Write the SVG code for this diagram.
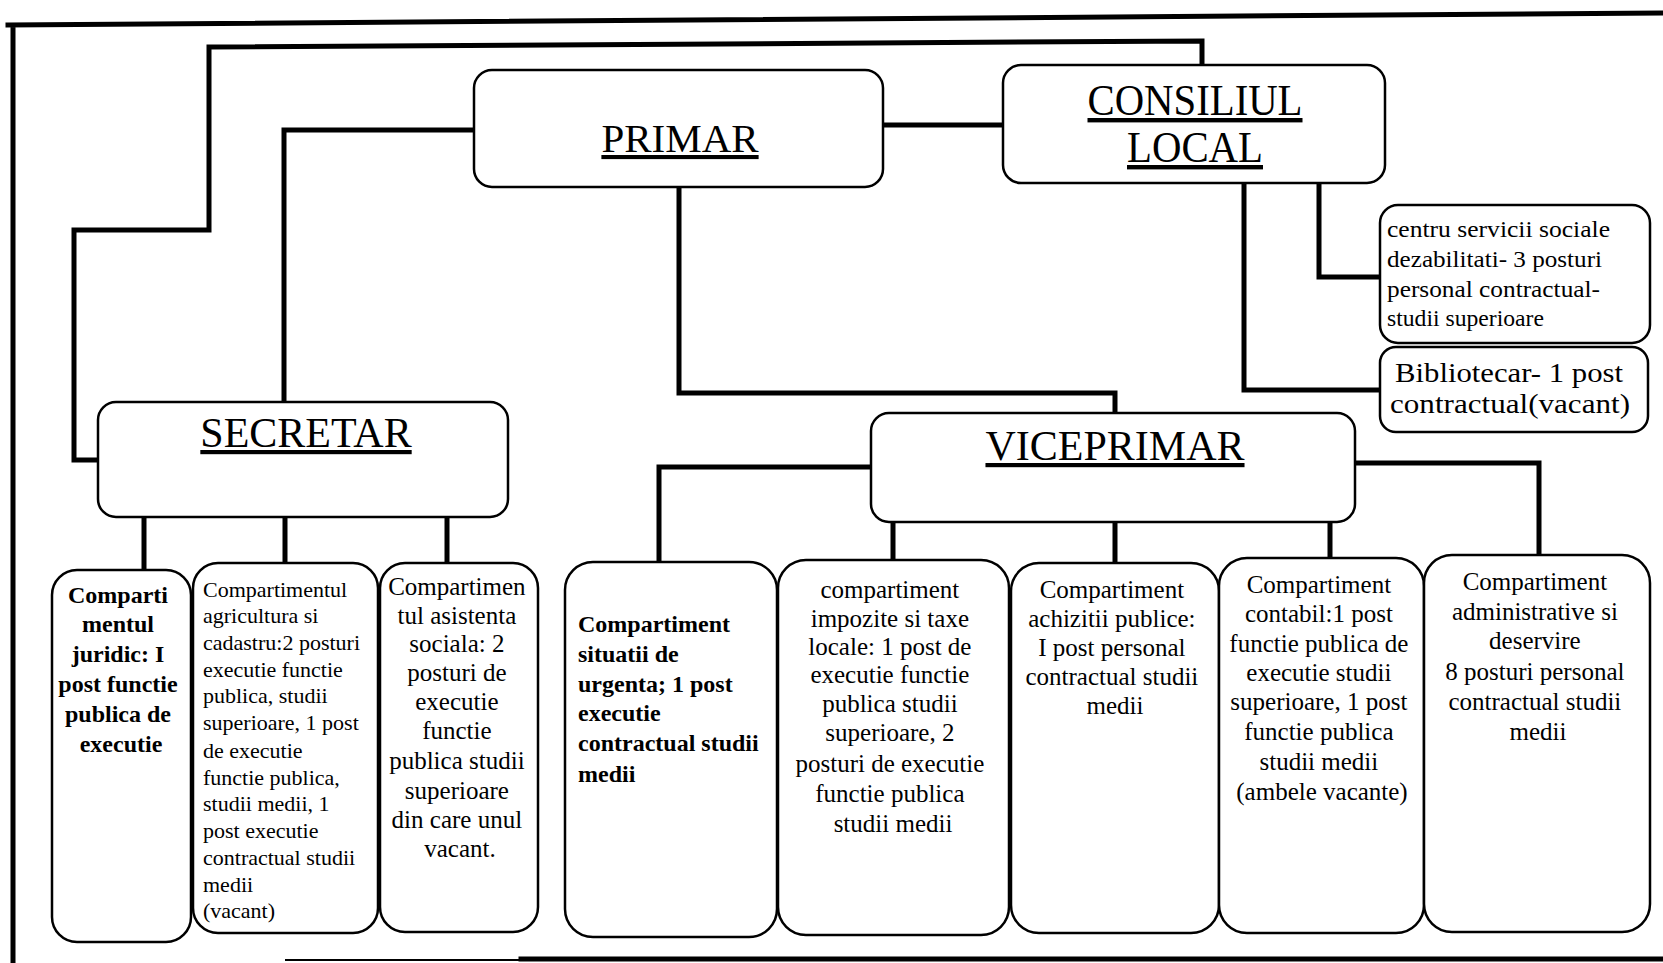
<svg xmlns="http://www.w3.org/2000/svg" width="1663" height="963" viewBox="0 0 1663 963">
<style>
.conn{stroke:#000;stroke-width:5;fill:none;stroke-linecap:square;stroke-linejoin:miter}
.box{fill:#fff;stroke:#000;stroke-width:2.5}
.t{font-family:'Liberation Serif','Times New Roman',serif;fill:#000}
.h{font-size:42px;text-decoration:underline}
.b1{font-size:24px;font-weight:bold}
.b2{font-size:22px}
.b3{font-size:25px}
.m{text-anchor:middle}
</style>
<rect width="1663" height="963" fill="#fff"/>
<g id="connectors">
<path class="conn" d="M13,963 V25 M8,25 L1663,13"/>
<path class="conn" style="stroke-width:2" d="M286,960 H521"/>
<path class="conn" d="M521,959 H1663"/>
<path class="conn" d="M98,460 H74 V230 H209 V47 L1202,41 V65"/>
<path class="conn" d="M474,130 H284 V402"/>
<path class="conn" d="M679,187 V393 H1115 V413"/>
<path class="conn" d="M883,125 H1003"/>
<path class="conn" d="M1319,183 V277 H1380"/>
<path class="conn" d="M1244,183 V390 H1380"/>
<path class="conn" d="M144,517 V570 M285,517 V563 M447,517 V563"/>
<path class="conn" d="M871,467 H659 V562 M893,522 V560 M1115,522 V563 M1330,522 V558 M1355,463 H1539 V555"/>
</g>
<g id="primar">
<rect class="box" x="474" y="70" width="409" height="117" rx="18"/>
<text class="t h m" x="680" y="152" style="font-size:41px">PRIMAR</text>
</g>
<g id="consiliul">
<rect class="box" x="1003" y="65" width="382" height="118" rx="18"/>
<text class="t h m" x="1195" y="115" style="font-size:44px" textLength="215" lengthAdjust="spacingAndGlyphs">CONSILIUL</text>
<text class="t h m" x="1195" y="162" style="font-size:44px" textLength="136" lengthAdjust="spacingAndGlyphs">LOCAL</text>
</g>
<g id="centru">
<rect class="box" x="1380" y="205" width="270" height="138" rx="18"/>
<text class="t" style="font-size:23px" x="1387">
<tspan x="1387" y="237" textLength="223" lengthAdjust="spacingAndGlyphs">centru servicii sociale</tspan>
<tspan x="1387" y="267" textLength="215" lengthAdjust="spacingAndGlyphs">dezabilitati- 3 posturi</tspan>
<tspan x="1387" y="297" textLength="213" lengthAdjust="spacingAndGlyphs">personal contractual-</tspan>
<tspan x="1387" y="326" textLength="157" lengthAdjust="spacingAndGlyphs">studii superioare</tspan>
</text>
</g>
<g id="bibliotecar">
<rect class="box" x="1380" y="347" width="268" height="85" rx="16"/>
<text class="t" style="font-size:27px">
<tspan x="1395" y="382" textLength="228" lengthAdjust="spacingAndGlyphs">Bibliotecar- 1 post</tspan>
<tspan x="1390" y="413" textLength="240" lengthAdjust="spacingAndGlyphs">contractual(vacant)</tspan>
</text>
</g>
<g id="secretar">
<rect class="box" x="98" y="402" width="410" height="115" rx="18"/>
<text class="t h m" x="306" y="447">SECRETAR</text>
</g>
<g id="viceprimar">
<rect class="box" x="871" y="413" width="484" height="109" rx="18"/>
<text class="t h m" x="1115" y="460">VICEPRIMAR</text>
</g>
<g id="juridic">
<rect class="box" x="52" y="570" width="139" height="372" rx="25"/>
<text class="t b1 m">
<tspan x="121" y="603">Comparti</tspan>
<tspan x="121" y="632">mentul</tspan>
<tspan x="121" y="662">juridic: I</tspan>
<tspan x="121" y="692">post functie</tspan>
<tspan x="121" y="722">publica de</tspan>
<tspan x="121" y="752">executie</tspan>
</text>
</g>
<g id="agricultura">
<rect class="box" x="193" y="563" width="185" height="370" rx="25"/>
<text class="t b2">
<tspan x="203" y="597">Compartimentul</tspan>
<tspan x="203" y="623">agricultura si</tspan>
<tspan x="203" y="650">cadastru:2 posturi</tspan>
<tspan x="203" y="677">executie functie</tspan>
<tspan x="203" y="703">publica, studii</tspan>
<tspan x="203" y="730">superioare, 1 post</tspan>
<tspan x="203" y="758">de executie</tspan>
<tspan x="203" y="785">functie publica,</tspan>
<tspan x="203" y="811">studii medii, 1</tspan>
<tspan x="203" y="838">post executie</tspan>
<tspan x="203" y="865">contractual studii</tspan>
<tspan x="203" y="892">medii</tspan>
<tspan x="203" y="918">(vacant)</tspan>
</text>
</g>
<g id="asistenta">
<rect class="box" x="380" y="563" width="158" height="369" rx="25"/>
<text class="t b3 m">
<tspan x="460" y="595">Compartimen</tspan>
<tspan x="460" y="624">tul asistenta</tspan>
<tspan x="460" y="652">sociala: 2</tspan>
<tspan x="460" y="681">posturi de</tspan>
<tspan x="460" y="710">executie</tspan>
<tspan x="460" y="739">functie</tspan>
<tspan x="460" y="769">publica studii</tspan>
<tspan x="460" y="799">superioare</tspan>
<tspan x="460" y="828">din care unul</tspan>
<tspan x="460" y="857">vacant.</tspan>
</text>
</g>
<g id="urgenta">
<rect class="box" x="565" y="562" width="212" height="375" rx="28"/>
<text class="t b1">
<tspan x="578" y="632">Compartiment</tspan>
<tspan x="578" y="662">situatii de</tspan>
<tspan x="578" y="692">urgenta; 1 post</tspan>
<tspan x="578" y="721">executie</tspan>
<tspan x="578" y="751">contractual studii</tspan>
<tspan x="578" y="782">medii</tspan>
</text>
</g>
<g id="impozite">
<rect class="box" x="778" y="560" width="231" height="375" rx="28"/>
<text class="t b3 m">
<tspan x="893" y="598">compartiment</tspan>
<tspan x="893" y="627">impozite si taxe</tspan>
<tspan x="893" y="655">locale: 1 post de</tspan>
<tspan x="893" y="683">executie functie</tspan>
<tspan x="893" y="712">publica studii</tspan>
<tspan x="893" y="741">superioare, 2</tspan>
<tspan x="893" y="772">posturi de executie</tspan>
<tspan x="893" y="802">functie publica</tspan>
<tspan x="893" y="832">studii medii</tspan>
</text>
</g>
<g id="achizitii">
<rect class="box" x="1011" y="563" width="208" height="370" rx="28"/>
<text class="t b3 m">
<tspan x="1115" y="598">Compartiment</tspan>
<tspan x="1115" y="627">achizitii publice:</tspan>
<tspan x="1115" y="656">I post personal</tspan>
<tspan x="1115" y="685">contractual studii</tspan>
<tspan x="1115" y="714">medii</tspan>
</text>
</g>
<g id="contabil">
<rect class="box" x="1219" y="558" width="205" height="375" rx="28"/>
<text class="t b3 m">
<tspan x="1322" y="593">Compartiment</tspan>
<tspan x="1322" y="622">contabil:1 post</tspan>
<tspan x="1322" y="652">functie publica de</tspan>
<tspan x="1322" y="681">executie studii</tspan>
<tspan x="1322" y="710">superioare, 1 post</tspan>
<tspan x="1322" y="740">functie publica</tspan>
<tspan x="1322" y="770">studii medii</tspan>
<tspan x="1322" y="800">(ambele vacante)</tspan>
</text>
</g>
<g id="administrative">
<rect class="box" x="1424" y="555" width="226" height="377" rx="28"/>
<text class="t b3 m">
<tspan x="1538" y="590">Compartiment</tspan>
<tspan x="1538" y="620">administrative si</tspan>
<tspan x="1538" y="649">deservire</tspan>
<tspan x="1538" y="680">8 posturi personal</tspan>
<tspan x="1538" y="710">contractual studii</tspan>
<tspan x="1538" y="740">medii</tspan>
</text>
</g>
</svg>
